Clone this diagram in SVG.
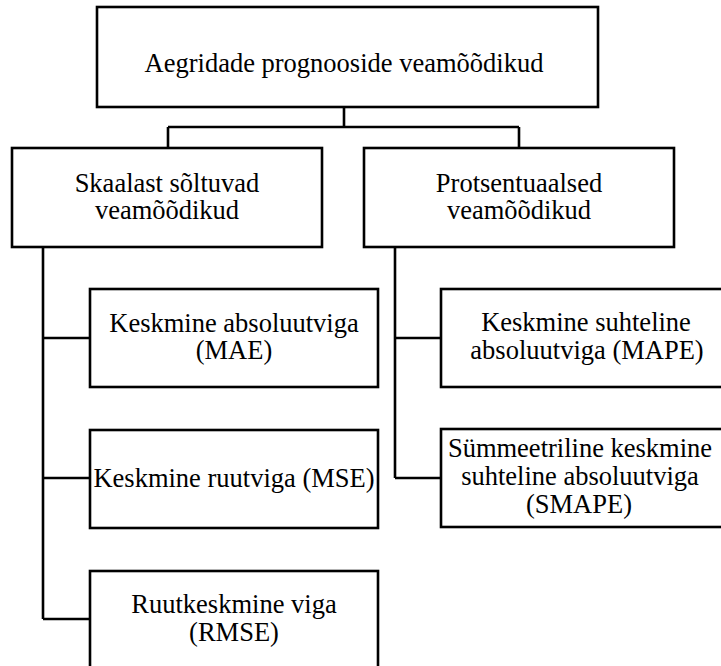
<svg xmlns="http://www.w3.org/2000/svg" width="721" height="666" viewBox="0 0 721 666">
  <style>
    .box { fill: #ffffff; stroke: #000000; stroke-width: 2.6; }
    .wire { fill: none; stroke: #000000; stroke-width: 2.6; }
    text { font-family: "Liberation Serif", "Times New Roman", serif; font-size: 26.5px; fill: #000000; text-anchor: middle; }
  </style>
  <rect width="721" height="666" fill="#ffffff"/>

  <g id="connectors">
    <path class="wire" d="M344,107 V127 M168,127 H519 M168,127 V148 M519,127 V148"/>
    <path class="wire" d="M43,247 V619 M43,338 H90 M43,478 H90 M43,619 H90"/>
    <path class="wire" d="M395,247 V478 M395,338 H441 M395,478 H441"/>
  </g>

  <g id="root">
    <rect class="box" x="97" y="7" width="501" height="100"/>
    <text x="344" y="72">Aegridade prognooside veamõõdikud</text>
  </g>

  <g id="scale-dependent">
    <rect class="box" x="12" y="148" width="310" height="99"/>
    <text x="167" y="192">Skaalast sõltuvad</text>
    <text x="167" y="219">veamõõdikud</text>
  </g>

  <g id="percentage">
    <rect class="box" x="364" y="148" width="310" height="99"/>
    <text x="519" y="192">Protsentuaalsed</text>
    <text x="519" y="219">veamõõdikud</text>
  </g>

  <g id="mae">
    <rect class="box" x="90" y="289" width="288" height="98"/>
    <text x="234" y="332">Keskmine absoluutviga</text>
    <text x="234" y="359">(MAE)</text>
  </g>

  <g id="mse">
    <rect class="box" x="90" y="430" width="288" height="98"/>
    <text x="234" y="487">Keskmine ruutviga (MSE)</text>
  </g>

  <g id="rmse">
    <rect class="box" x="90" y="571" width="288" height="110"/>
    <text x="234" y="613">Ruutkeskmine viga</text>
    <text x="234" y="641">(RMSE)</text>
  </g>

  <g id="mape">
    <rect class="box" x="441" y="289" width="300" height="98"/>
    <text x="586" y="331">Keskmine suhteline</text>
    <text x="587" y="359">absoluutviga (MAPE)</text>
  </g>

  <g id="smape">
    <rect class="box" x="441" y="429" width="300" height="98"/>
    <text x="580" y="457">Sümmeetriline keskmine</text>
    <text x="580" y="485">suhteline absoluutviga</text>
    <text x="579" y="513">(SMAPE)</text>
  </g>
</svg>
